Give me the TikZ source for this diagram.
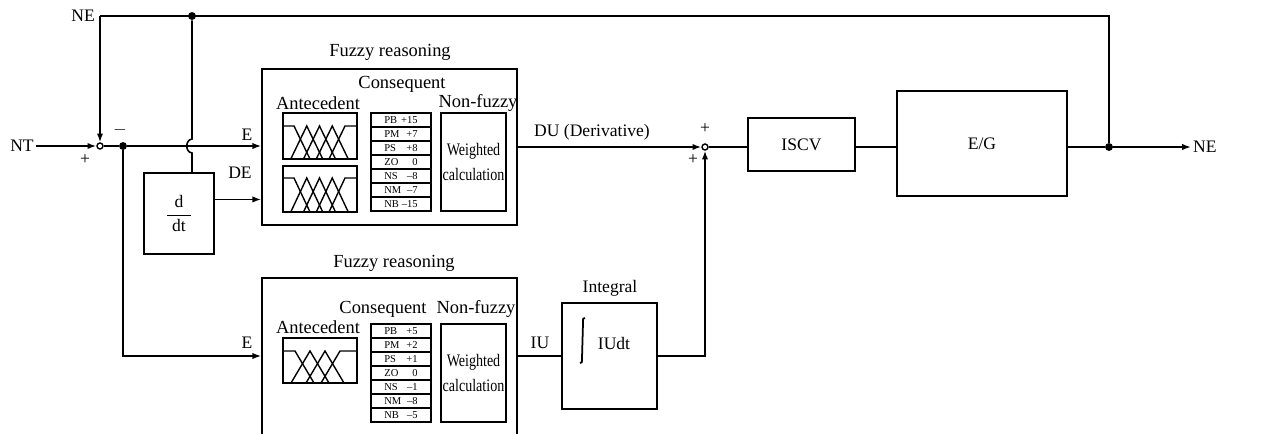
\documentclass[tikz,border=0pt]{standalone}
\usepackage{fontspec}
\setmainfont{Liberation Serif}
\usetikzlibrary{arrows.meta,calc}
\newcommand{\mfdraw}[8]{%
  \draw[mf] (#1,#3) -- (#5,#3) -- ({#5+#8},#4);
  \pgfmathtruncatemacro\mfm{#7-2}%
  \foreach \k in {1,...,\mfm}{\draw[mf] ({#5+\k*#6-#8},#4) -- ({#5+\k*#6},#3) -- ({#5+\k*#6+#8},#4);}
  \draw[mf] ({#5+(#7-1)*#6-#8},#4) -- ({#5+(#7-1)*#6},#3) -- (#2,#3);}
\newcommand{\rowtxt}[2]{\makebox[10pt][l]{#1}\makebox[9pt][r]{#2}}
\begin{document}
\begin{tikzpicture}[x=0.02cm,y=-0.02cm,
  every node/.style={font=\fontsize{10}{12}\selectfont},
  line/.style={line width=0.9pt},
  arr/.style={line width=0.9pt,-{Latex[length=5pt,width=3.6pt]}},
  blk/.style 2 args={draw,line width=0.9pt,inner sep=0pt,minimum width=#1*0.02cm,minimum height=#2*0.02cm},
  mf/.style={line width=0.8pt},
  rowbox/.style={draw,line width=0.8pt,inner sep=0pt,minimum width=1.2cm,minimum height=0.28cm,font=\fontsize{6}{7}\selectfont},
  sumj/.style={draw,circle,line width=0.8pt,inner sep=0pt,minimum size=0.12cm},
  dot/.style={circle,fill,inner sep=0pt,minimum size=4.5pt},
  lbl/.style={inner sep=1pt}]
\useasboundingbox (0,0) rectangle (1271,433);
\clip (0,0) rectangle (1271,433);

% blocks
\node[blk={70}{81}] (ddt) at (179,213.5) {\(\displaystyle\frac{\textrm{d}}{\textrm{\hspace{3pt}dt\hspace{3pt}}}\)};
\node[blk={255}{156}] (fz1) at (389.5,147) {};
\node[blk={255}{170}] (fz2) at (389.5,363) {};
\node[blk={95}{106}] (integ) at (609.5,356) {};
\node[blk={107}{53}] (iscv) at (801.5,144.5) {ISCV};
\node[blk={170}{105}] (eg) at (982,143.5) {E/G};

% summing junctions and dots
\node[sumj] (s1) at (100,146) {};
\node[sumj] (s2) at (705,147) {};
\node[dot] (d1) at (123,146) {};
\node[dot] (d2) at (192,16) {};
\node[dot] (d3) at (1109,147) {};
\coordinate (fbc) at (100,16);
\coordinate (hopT) at (192,139);
\coordinate (hopB) at (192,153);

% labels outside
\node[lbl] (NT) at (22,146) {NT};
\node[lbl,anchor=east] (NEl) at (97,16) {NE};
\node[lbl,anchor=west] (NEo) at (1191,147) {NE};
\node (t1) at (390,52) {\fontsize{10.5}{12}\selectfont Fuzzy reasoning};
\node (t2) at (394,263) {\fontsize{10.5}{12}\selectfont Fuzzy reasoning};
\node (tint) at (610,288) {Integral};
\node (lE1) at (247,135) {E};
\node (lDE) at (240,173) {DE};
\node (lE2) at (247,343) {E};
\node (lDU) at (592,132) {DU (Derivative)};
\node (lIU) at (540,343) {IU};
\node (p1) at (85,160) {+};
\node (m1) at (120,130) {\(-\)};
\node (p2) at (705,129) {+};
\node (p3) at (693,160) {+};

% upper fuzzy block contents
\node (con1) at (402,84) {\fontsize{10.5}{12}\selectfont Consequent};
\node (ant1) at (318,103) {\fontsize{10.5}{12}\selectfont Antecedent};
\node (nf1) at (478,103) {\fontsize{10.5}{12}\selectfont Non-fuzzy};
\node[blk={74}{46},line width=0.8pt] (mfa) at (320,136) {};
\node[blk={74}{46},line width=0.8pt] (mfb) at (320,189) {};
\mfdraw{283}{357}{126}{159}{294}{12.75}{5}{16}
\mfdraw{283}{357}{178}{212}{294}{12.75}{5}{16}
\foreach \t/\v [count=\i from 0] in {PB/+15,PM/+7,PS/+8,ZO/0,NS/\textendash 8,NM/\textendash 7,NB/\textendash 15}{
  \node[rowbox] (ra\i) at (401,{120+14*\i}) {\rowtxt{\t}{\v}};
}
\node[blk={65}{98},line width=0.8pt,align=center] (wa) at (473.5,162) {\scalebox{0.8}[1]{Weighted}\\[2pt]\scalebox{0.8}[1]{calculation}};

% lower fuzzy block contents
\node (con2) at (383,309) {\fontsize{10.5}{12}\selectfont Consequent};
\node (ant2) at (318,327) {\fontsize{10.5}{12}\selectfont Antecedent};
\node (nf2) at (476,309) {\fontsize{10.5}{12}\selectfont Non-fuzzy};
\node[blk={74}{45},line width=0.8pt] (mfc) at (320,360.5) {};
\mfdraw{283}{357}{351}{383}{295}{15}{4}{19}
\foreach \t/\v [count=\i from 0] in {PB/+5,PM/+2,PS/+1,ZO/0,NS/\textendash 1,NM/\textendash 8,NB/\textendash 5}{
  \node[rowbox] (rb\i) at (401,{331+14*\i}) {\rowtxt{\t}{\v}};
}
\node[blk={65}{98},line width=0.8pt,align=center] (wb) at (473.5,373) {\scalebox{0.8}[1]{Weighted}\\[2pt]\scalebox{0.8}[1]{calculation}};

% integral contents
\draw[line width=1pt] (585,318) .. controls (583,318) .. (583,323) -- (582,358) .. controls (582,363) .. (580,363);
\node (iudt) at (614,343) {IUdt};

% connectors
\draw[arr] (NT.east) -- (s1.west);
\draw[line] (s1.east) -- (d1);
\draw[arr] (d1) -- (fz1.west |- d1);
\draw[arr] (d1) |- (fz2.west |- integ.west);
\draw[arr] ($(ddt.north east)!0.33!(ddt.south east)$) -- (fz1.west |- {$(ddt.north east)!0.33!(ddt.south east)$});
\draw[line] (d3) |- (fbc);
\draw[arr] (fbc) -- (s1.north);
\draw[line] (d2) -- (hopT) .. controls (185,140) and (185,152) .. (hopB) -- (d2 |- ddt.north);
\draw[arr] (fz1.east |- s2) -- (s2.west);
\draw[line] (fz2.east |- integ.west) -- (integ.west);
\draw[arr] (integ.east) -| (s2.south);
\draw[line] (s2.east) -- (iscv.west |- s2);
\draw[line] (iscv.east |- s2) -- (eg.west |- s2);
\draw[line] (eg.east |- s2) -- (d3);
\draw[arr] (d3) -- (NEo.west);
\end{tikzpicture}
\end{document}
